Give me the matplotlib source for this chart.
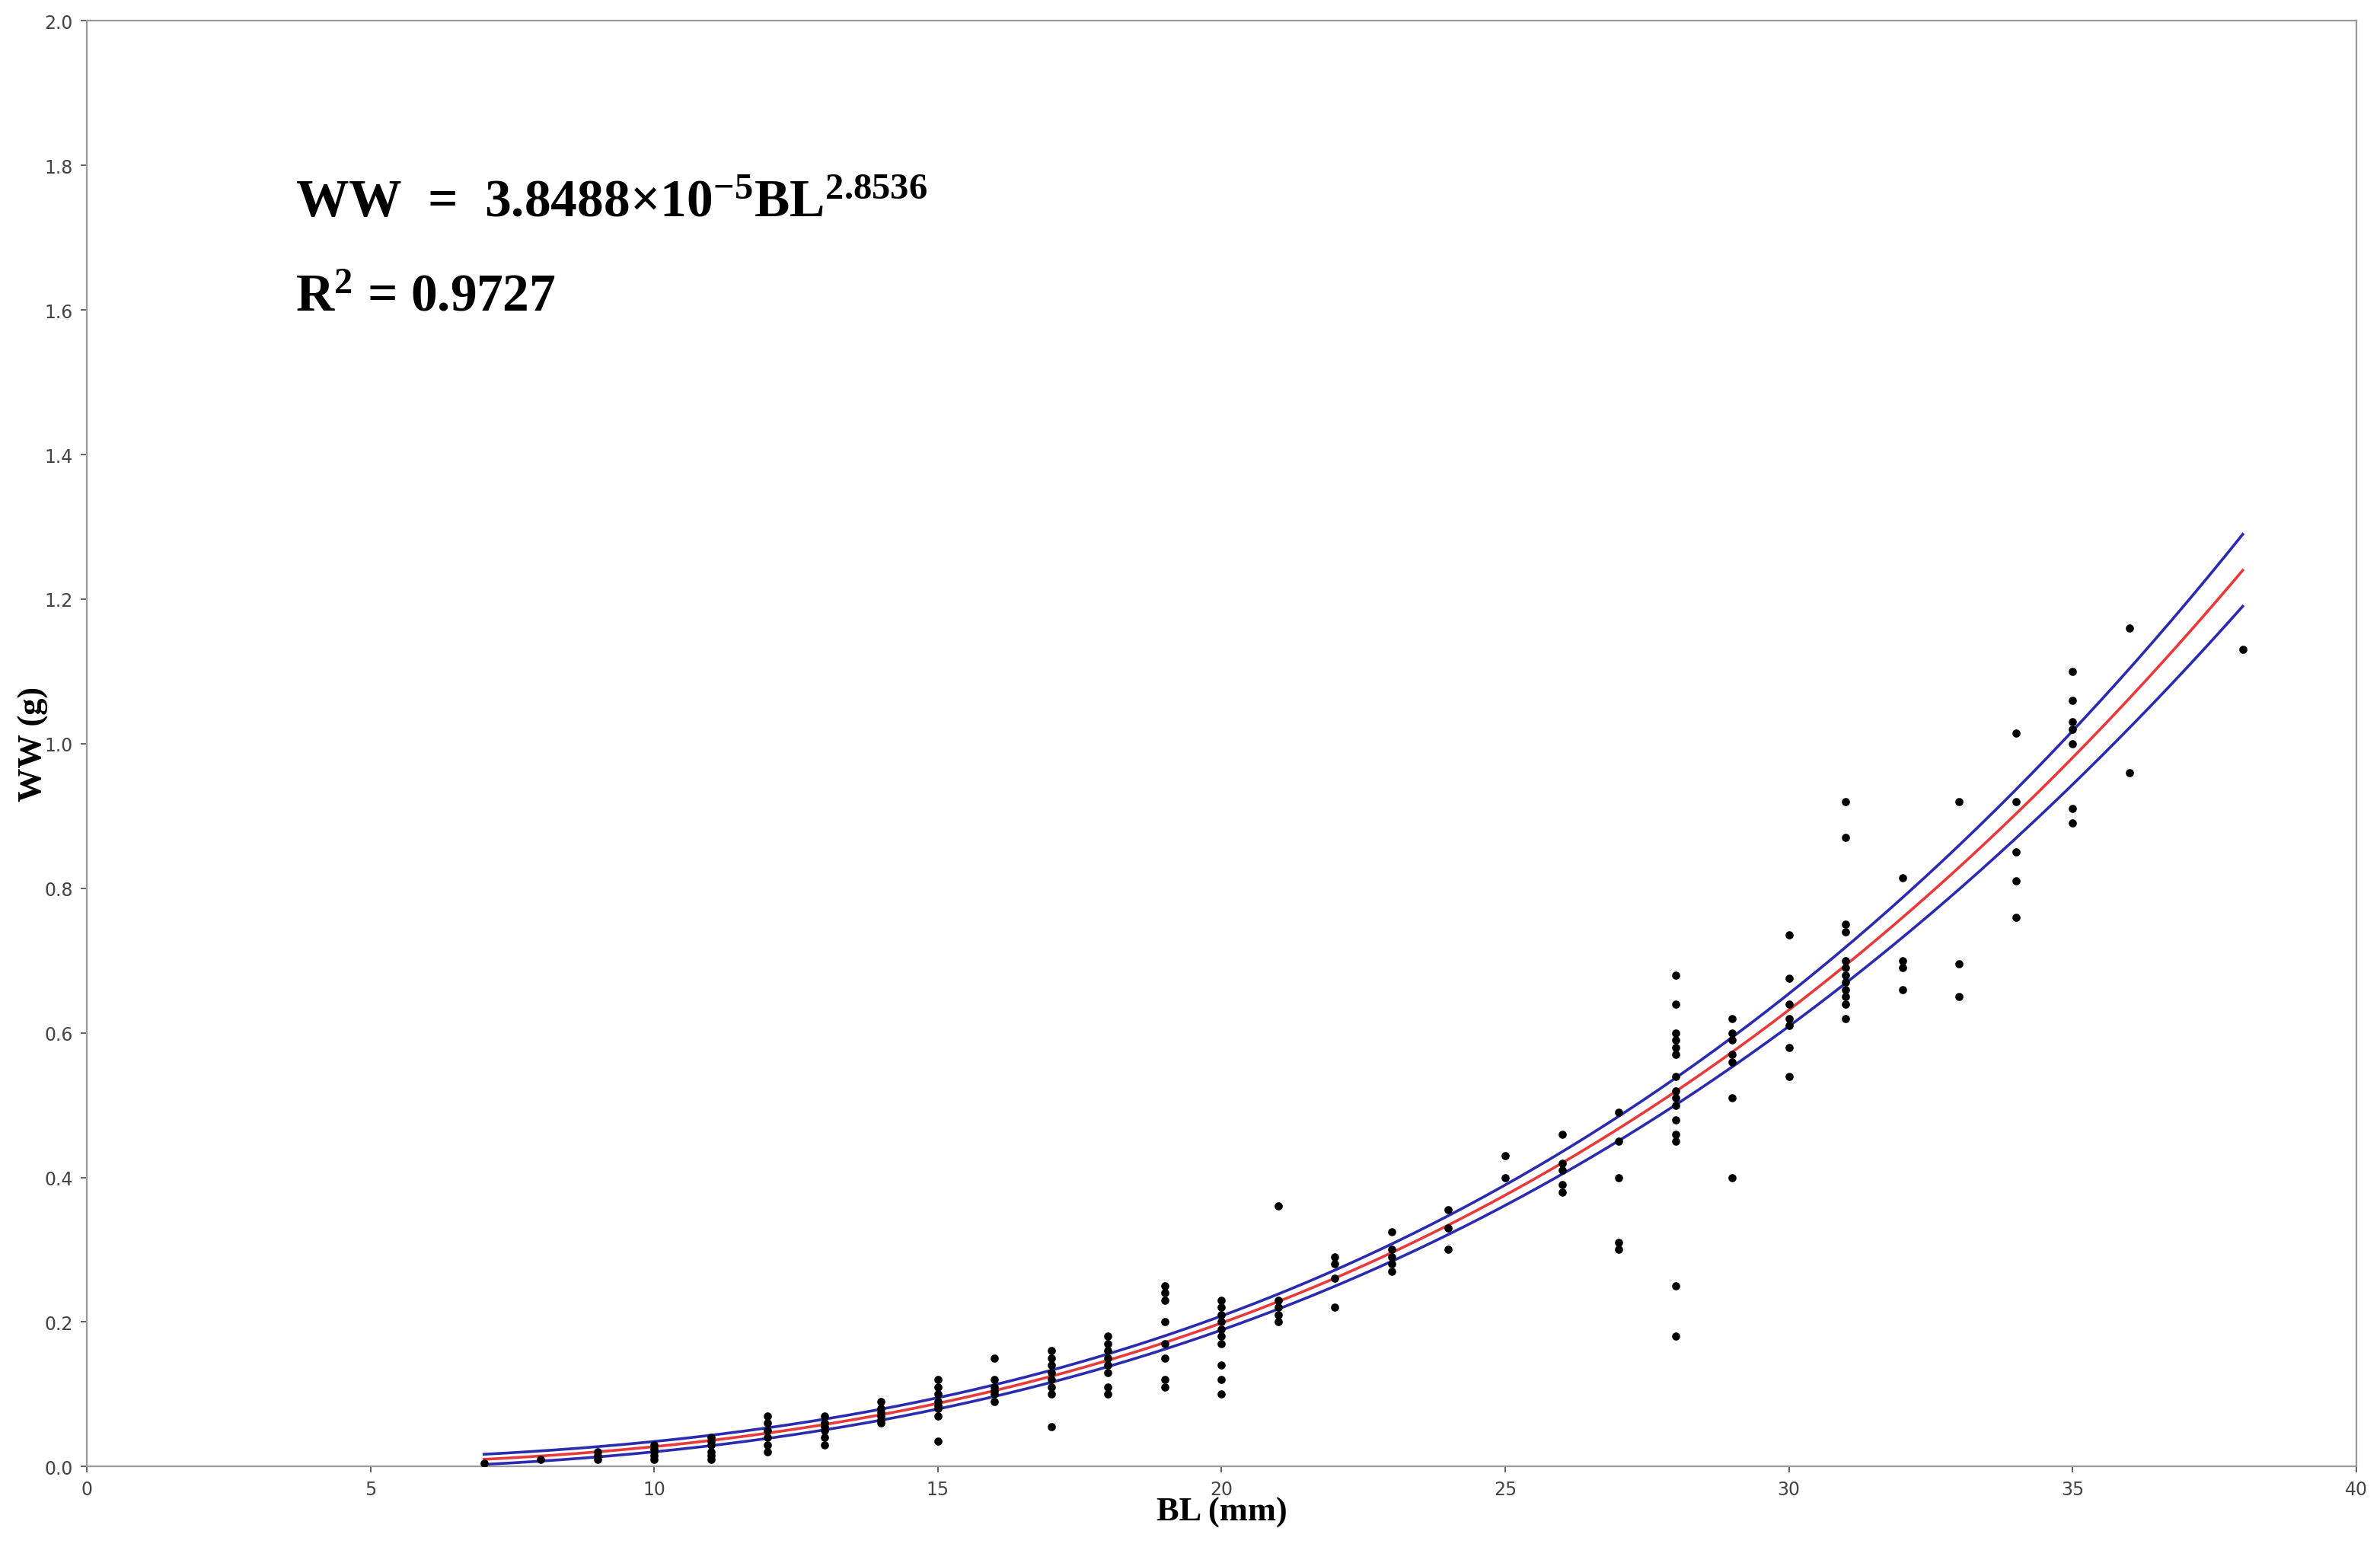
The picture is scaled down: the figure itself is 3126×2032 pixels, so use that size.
import numpy as np
import matplotlib
matplotlib.use("Agg")
import matplotlib.pyplot as plt

plt.rcParams["mathtext.fontset"] = "custom"
plt.rcParams["mathtext.rm"] = "Liberation Serif:bold"
plt.rcParams["mathtext.it"] = "Liberation Serif:bold"
plt.rcParams["mathtext.bf"] = "Liberation Serif:bold"

bl_groups = [7, 8, 9, 10, 11, 12, 13, 14, 15, 16, 17, 18, 19, 20, 21, 22, 23, 24, 25, 26, 27, 28, 29, 30, 31, 32, 33, 34, 35, 36, 38]
ww_groups = [
    [0.005],
    [0.01],
    [0.01, 0.015, 0.02],
    [0.01, 0.015, 0.02, 0.025, 0.03],
    [0.01, 0.015, 0.02, 0.03, 0.035, 0.04],
    [0.02, 0.03, 0.04, 0.05, 0.06, 0.07],
    [0.03, 0.04, 0.05, 0.055, 0.06, 0.07],
    [0.06, 0.065, 0.07, 0.075, 0.08, 0.09],
    [0.035, 0.07, 0.08, 0.085, 0.09, 0.1, 0.11, 0.12],
    [0.09, 0.1, 0.105, 0.11, 0.12, 0.15],
    [0.055, 0.1, 0.11, 0.12, 0.13, 0.14, 0.15, 0.16],
    [0.1, 0.11, 0.13, 0.14, 0.15, 0.16, 0.17, 0.18],
    [0.11, 0.12, 0.15, 0.17, 0.2, 0.23, 0.24, 0.25],
    [0.1, 0.12, 0.14, 0.17, 0.18, 0.19, 0.2, 0.21, 0.22, 0.23],
    [0.2, 0.21, 0.22, 0.23, 0.36],
    [0.22, 0.26, 0.28, 0.29],
    [0.27, 0.28, 0.29, 0.3, 0.325],
    [0.3, 0.33, 0.355],
    [0.4, 0.43],
    [0.38, 0.39, 0.41, 0.42, 0.46],
    [0.3, 0.31, 0.4, 0.45, 0.49],
    [0.18, 0.25, 0.45, 0.46, 0.48, 0.5, 0.51, 0.52, 0.54, 0.57, 0.58, 0.59, 0.6, 0.64, 0.68],
    [0.4, 0.51, 0.56, 0.57, 0.59, 0.6, 0.62],
    [0.54, 0.58, 0.61, 0.62, 0.64, 0.675, 0.735],
    [0.62, 0.64, 0.65, 0.66, 0.67, 0.68, 0.69, 0.7, 0.74, 0.75, 0.87, 0.92],
    [0.66, 0.69, 0.7, 0.815],
    [0.65, 0.695, 0.92],
    [0.76, 0.81, 0.85, 0.92, 1.015],
    [0.89, 0.91, 1.0, 1.02, 1.03, 1.06, 1.1],
    [0.96, 1.16],
    [1.13],
]
coef_a = 3.8488e-5
coef_b = 2.8536
band_abs = 0.007
band_rel = 0.031
x_ticks = [0, 5, 10, 15, 20, 25, 30, 35, 40]
y_ticks = [0.0, 0.2, 0.4, 0.6, 0.8, 1.0, 1.2, 1.4, 1.6, 1.8, 2.0]

xs = np.concatenate([[b] * len(w) for b, w in zip(bl_groups, ww_groups)])
ys = np.concatenate(ww_groups)

fig = plt.figure(figsize=(15.63, 10.165), dpi=200)
ax = fig.add_axes([0.0365, 0.052, 0.9535, 0.934])

xf = np.linspace(7, 38, 300)
fit = coef_a * xf ** coef_b
band = band_abs + band_rel * fit ** 1.5
ax.plot(xf, fit + band, color="#2b2bb0", lw=1.3, zorder=2)
ax.plot(xf, np.maximum(fit - band, 0.002), color="#2b2bb0", lw=1.3, zorder=2)
ax.plot(xf, fit, color="#e83a3a", lw=1.3, zorder=3)
ax.scatter(xs, ys, s=8, color="black", zorder=4)

ax.set_xlim(0, 40)
ax.set_ylim(0, 2.0)
ax.set_xticks(x_ticks)
ax.set_yticks(y_ticks)
ax.set_yticklabels([f"{v:.1f}" for v in y_ticks])
ax.tick_params(labelsize=8.5, colors="#444444", length=3, width=0.6)
for s in ax.spines.values():
    s.set_color("#999999")
    s.set_linewidth(0.8)

serif = "Liberation Serif"
ax.set_xlabel("BL (mm)", family=serif, fontweight="bold", fontsize=16, labelpad=-1)
ax.set_ylabel("WW (g)", family=serif, fontweight="bold", fontsize=16, labelpad=-2)

ax.text(0.092, 0.865, r"WW  =  3.8488$\times$10$^{-5}$BL$^{2.8536}$", transform=ax.transAxes,
        family=serif, fontweight="bold", fontsize=25)
ax.text(0.092, 0.8, r"R$^{2}$ = 0.9727", transform=ax.transAxes,
        family=serif, fontweight="bold", fontsize=25)
fig.savefig("out.png", dpi=200)
